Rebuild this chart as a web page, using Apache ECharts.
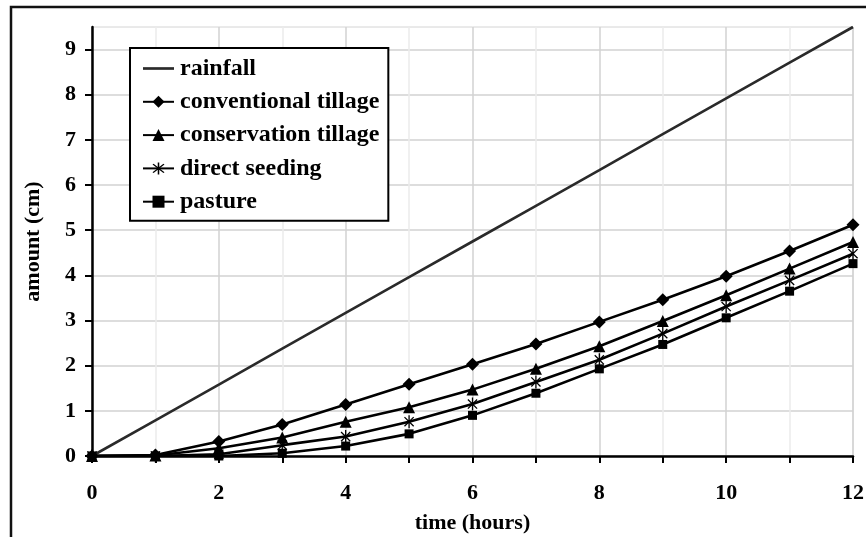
<!DOCTYPE html>
<html>
<head>
<meta charset="utf-8">
<script src="https://cdn.jsdelivr.net/npm/echarts@6/dist/echarts.min.js"></script>
<style>html,body{margin:0;padding:0;background:#fff}#c{width:866px;height:537px}</style>
</head>
<body>
<div id="c"></div>
<script>
var hours = [0, 1, 2, 3, 4, 5, 6, 7, 8, 9, 10, 11, 12];
var rainfall = [0, 0.79, 1.58, 2.38, 3.17, 3.96, 4.75, 5.54, 6.33, 7.13, 7.92, 8.71, 9.5];
var conventional = [0, 0.02, 0.32, 0.70, 1.14, 1.59, 2.03, 2.48, 2.97, 3.46, 3.98, 4.54, 5.12];
var conservation = [0, 0.01, 0.17, 0.41, 0.76, 1.08, 1.47, 1.93, 2.43, 2.99, 3.56, 4.15, 4.74];
var directSeeding = [0, 0, 0.04, 0.24, 0.43, 0.76, 1.15, 1.64, 2.13, 2.71, 3.31, 3.89, 4.48];
var pasture = [0, 0, 0, 0.06, 0.22, 0.49, 0.90, 1.39, 1.93, 2.47, 3.06, 3.65, 4.26];
var yTicks = [0, 1, 2, 3, 4, 5, 6, 7, 8, 9];
var xLabels = [0, 2, 4, 6, 8, 10, 12];

function pairs(arr) { return hours.map(function (h, i) { return [h, arr[i]]; }); }

var FONT = "'Liberation Serif', 'Times New Roman', serif";
var asterisk = 'path://M-0.8,-8 L0.8,-8 L0.8,8 L-0.8,8 Z M-6.22,-5.09 L-5.09,-6.22 L6.22,5.09 L5.09,6.22 Z M-5.09,6.22 L-6.22,5.09 L5.09,-6.22 L6.22,-5.09 Z';

function lineSeries(name, data, symbol, size) {
  return {
    name: name, type: 'line', data: pairs(data),
    symbol: symbol, symbolSize: size, symbolKeepAspect: true,
    showAllSymbol: true,
    lineStyle: { color: '#000', width: 2.6 },
    itemStyle: { color: '#000', borderWidth: 0 },
    emphasis: { disabled: true },
    animation: false
  };
}

var chart = echarts.init(document.getElementById('c'), null, { renderer: 'canvas' });
chart.setOption({
  backgroundColor: '#fff',
  animation: false,
  graphic: [{
    type: 'rect', z: -10, silent: true,
    shape: { x: 11, y: 7, width: 900, height: 600 },
    style: { fill: 'none', stroke: '#111', lineWidth: 2.5 }
  }],
  grid: {
    left: 92, right: 13, top: 27, bottom: 81,
    containLabel: false, outerBoundsMode: 'none',
    show: true, borderColor: '#d4d4d4', borderWidth: 1, backgroundColor: 'transparent'
  },
  legend: {
    orient: 'vertical', left: 130, top: 48,
    padding: [8.5, 9, 7, 12], itemGap: 9.3,
    itemWidth: 31, itemHeight: 15,
    backgroundColor: '#fff', borderColor: '#000', borderWidth: 2,
    textStyle: { fontFamily: FONT, fontWeight: 'bold', fontSize: 24, color: '#000', lineHeight: 24, padding: [0, 0, 0, 1] },
    data: [
      { name: 'rainfall', icon: 'path://M0,0 L30,0 L30,2.6 L0,2.6 Z', itemStyle: { color: '#2a2a2a' } },
      'conventional tillage', 'conservation tillage', 'direct seeding', 'pasture'
    ]
  },
  xAxis: {
    type: 'value', min: 0, max: 12, interval: 1,
    name: 'time (hours)', nameLocation: 'middle', nameGap: 56,
    nameTextStyle: { fontFamily: FONT, fontWeight: 'bold', fontSize: 22, color: '#000' },
    axisLine: { show: true, onZero: false, lineStyle: { color: '#000', width: 2.5 } },
    axisTick: { show: true, inside: false, length: 7, lineStyle: { color: '#000', width: 2 } },
    axisLabel: {
      margin: 26, fontFamily: FONT, fontWeight: 'bold', fontSize: 22, color: '#000',
      formatter: function (v) { return xLabels.indexOf(v) >= 0 ? String(v) : ''; }
    },
    splitLine: { show: true, lineStyle: { color: ['#d2d2d2', '#ebebeb'], width: 1.5 } }
  },
  yAxis: {
    type: 'value', min: 0, max: 9.5, interval: 1,
    name: 'amount (cm)', nameLocation: 'middle', nameGap: 48, nameRotate: 90,
    nameTextStyle: { fontFamily: FONT, fontWeight: 'bold', fontSize: 22, color: '#000' },
    axisLine: { show: true, lineStyle: { color: '#000', width: 2.5 } },
    axisTick: { show: true, inside: false, length: 7, lineStyle: { color: '#000', width: 2 }, customValues: yTicks },
    axisLabel: {
      margin: 16, fontFamily: FONT, fontWeight: 'bold', fontSize: 22, color: '#000',
      customValues: yTicks
    },
    splitLine: { show: true, lineStyle: { color: '#d2d2d2', width: 1.5 } }
  },
  series: [
    {
      name: 'rainfall', type: 'line', data: pairs(rainfall), symbol: 'none',
      lineStyle: { color: '#2a2a2a', width: 2.6 }, itemStyle: { color: '#2a2a2a' },
      emphasis: { disabled: true }, animation: false
    },
    lineSeries('conventional tillage', conventional, 'diamond', 13),
    lineSeries('conservation tillage', conservation, 'triangle', 12),
    lineSeries('direct seeding', directSeeding, asterisk, 13),
    lineSeries('pasture', pasture, 'rect', 9)
  ]
});
</script>
</body>
</html>
